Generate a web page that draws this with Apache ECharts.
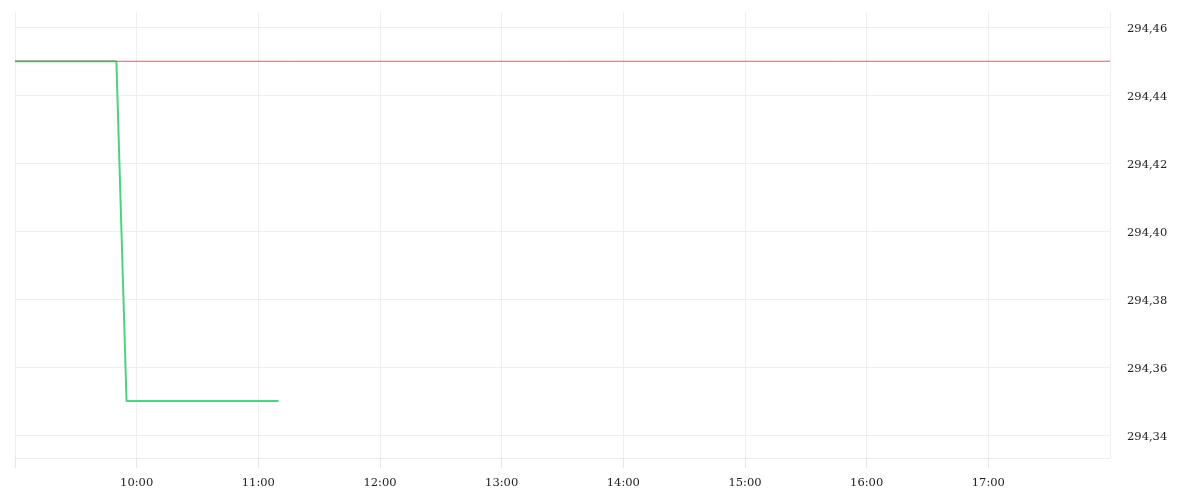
<!DOCTYPE html>
<html lang="en">
<head>
  <meta charset="UTF-8">
  <title>Intraday price</title>
  <script src="https://cdn.jsdelivr.net/npm/echarts@6/dist/echarts.min.js"></script>
  <style>
    html, body { margin: 0; padding: 0; background: #fff; }
  </style>
</head>
<body>
<div id="main" style="width: 1200px;height: 500px;"></div>
<script>
  // session data
  var day = '2024-01-02';
  var sessionStart = '09:00';
  var sessionEnd = '18:00';
  var priceTimes = ['09:00', '09:50', '09:55', '11:10'];
  var priceValues = [294.45, 294.45, 294.35, 294.35];
  var refLevel = 294.45;
  var yTicks = [294.34, 294.36, 294.38, 294.40, 294.42, 294.44, 294.46];
  var yMin = 294.3332;
  var yMax = 294.4645;

  function ts(hm) {
    return new Date(day + 'T' + hm + ':00').getTime();
  }
  function pad(n) { return n < 10 ? '0' + n : '' + n; }

  var myChart = echarts.init(document.getElementById('main'));
  var labelFont = {
    fontFamily: 'DejaVu Serif',
    fontSize: 11.5,
    color: '#222'
  };

  myChart.setOption({
    animation: false,
    backgroundColor: '#fff',
    grid: { left: 15, right: 90, top: 12, bottom: 42, containLabel: false, outerBoundsMode: 'none' },
    xAxis: {
      type: 'time',
      min: ts(sessionStart),
      max: ts(sessionEnd),
      interval: 3600 * 1000,
      axisLine: { show: true, lineStyle: { color: '#eeeeee' } },
      axisTick: { show: true, length: 10, inside: false, lineStyle: { color: '#e6e6e6' } },
      splitLine: { show: true, lineStyle: { color: '#eeeeee' } },
      axisLabel: Object.assign({
        margin: 19,
        formatter: function (v) {
          if (v <= ts(sessionStart) || v >= ts(sessionEnd)) return '';
          var d = new Date(v);
          return pad(d.getHours()) + ':' + pad(d.getMinutes());
        }
      }, labelFont)
    },
    yAxis: {
      type: 'value',
      position: 'right',
      min: yMin,
      max: yMax,
      axisLine: { show: false },
      axisTick: { show: false, customValues: yTicks },
      splitLine: { show: true, customValues: yTicks, lineStyle: { color: '#eeeeee' } },
      axisLabel: Object.assign({
        margin: 17,
        verticalAlign: 'top',
        lineHeight: 4,
        customValues: yTicks,
        formatter: function (v) {
          return v.toFixed(2).replace('.', ',');
        }
      }, labelFont)
    },
    series: [
      {
        name: 'price',
        type: 'line',
        symbol: 'none',
        lineStyle: { color: '#4cd37c', width: 2 },
        data: priceTimes.map(function (t, i) { return [ts(t), priceValues[i]]; })
      },
      {
        name: 'reference',
        type: 'line',
        symbol: 'none',
        lineStyle: { color: '#ff4f5c', width: 1 },
        data: [[ts(sessionStart), refLevel], [ts(sessionEnd), refLevel]]
      }
    ]
  });
</script>
</body>
</html>
